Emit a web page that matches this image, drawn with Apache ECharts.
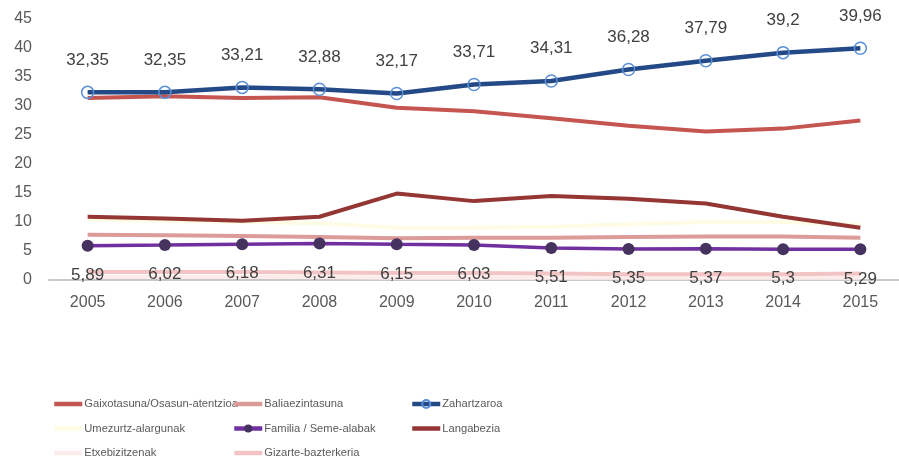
<!DOCTYPE html>
<html><head><meta charset="utf-8">
<script src="https://cdn.jsdelivr.net/npm/echarts@6/dist/echarts.min.js"></script>
<style>html,body{margin:0;padding:0;background:#fff}#c{width:899px;height:461px}</style>
</head><body><div id="c"></div>
<script>
const years = ['2005','2006','2007','2008','2009','2010','2011','2012','2013','2014','2015'];
const yTicks = [0,5,10,15,20,25,30,35,40,45];
const gaixotasuna = [31.4,31.7,31.4,31.5,29.7,29.1,27.9,26.6,25.6,26.1,27.5];
const baliaezintasuna = [7.8,7.7,7.6,7.4,7.2,7.3,7.3,7.4,7.5,7.5,7.3];
const zahartzaroa = [32.35,32.35,33.21,32.88,32.17,33.71,34.31,36.28,37.79,39.2,39.96];
const umezurtz = [10.4,10.2,10.0,9.8,9.0,9.0,9.2,9.6,10.0,10.0,9.5];
const familia = [5.89,6.02,6.18,6.31,6.15,6.03,5.51,5.35,5.37,5.3,5.29];
const langabezia = [10.9,10.6,10.2,10.9,14.9,13.6,14.5,14.0,13.2,10.9,9.0];
const etxebizitzenak = [0.5,0.5,0.5,0.5,0.4,0.4,0.4,0.4,0.4,0.4,0.4];
const gizarte = [1.4,1.4,1.4,1.3,1.2,1.2,1.1,1.0,1.0,1.0,1.1];

const names = ['Gaixotasuna/Osasun-atentzioa','Baliaezintasuna','Zahartzaroa','Umezurtz-alargunak','Familia / Seme-alabak','Langabezia','Etxebizitzenak','Gizarte-bazterkeria'];
const withMarker = [names[2], names[4]];
const FONT = '"Liberation Sans",Arial,sans-serif';
const chart = echarts.init(document.getElementById('c'));
function ln(name, data, color, width, extra) {
  return Object.assign({name, type:'line', data, symbol:'none', lineStyle:{color, width}, itemStyle:{color}, z:2}, extra||{});
}
function legItems(list) {
  return list.map(n => withMarker.includes(n) ? {name:n} : {name:n, itemStyle:{opacity:0}});
}
const legendBase = {orient:'vertical', itemWidth:28, itemHeight:10, itemGap:12.5, height:90, padding:0,
  lineStyle:{width:4.5},
  textStyle:{fontFamily:FONT, fontSize:11.2, lineHeight:12, color:'#595959', padding:[0,0,0,-3]}, top:398};
chart.setOption({
  animation:false,
  grid:{left:49, right:0, top:19, bottom:181},
  xAxis:{type:'category', data:years, boundaryGap:true,
    axisLine:{lineStyle:{color:'#c8c8c8', width:2}}, axisTick:{show:false},
    axisLabel:{color:'#595959', fontSize:16, fontFamily:FONT, margin:15}},
  yAxis:{type:'value', min:yTicks[0], max:yTicks[yTicks.length-1], interval:5,
    axisLine:{show:false}, axisTick:{show:false}, splitLine:{show:false},
    axisLabel:{color:'#595959', fontSize:16, fontFamily:FONT, margin:17}},
  legend:[
    Object.assign({left:52, data:legItems([names[0],names[3],names[6]])}, legendBase),
    Object.assign({left:232, data:legItems([names[1],names[4],names[7]])}, legendBase),
    Object.assign({left:410, data:legItems([names[2],names[5]])}, legendBase)
  ],
  series:[
    ln(names[6], etxebizitzenak, '#fdeceb', 4),
    ln(names[7], gizarte, '#f2c5c4', 4),
    ln(names[3], umezurtz, '#fffce6', 4),
    ln(names[1], baliaezintasuna, '#db9b99', 4),
    ln(names[5], langabezia, '#943634', 4),
    ln(names[0], gaixotasuna, '#c55550', 4),
    ln(names[4], familia, '#7030a0', 3.5, {symbol:'circle', symbolSize:12, itemStyle:{color:'#46325f'},
      label:{show:true, position:'bottom', distance:15, color:'#404040', fontSize:17, fontFamily:FONT,
        formatter:p=>String(p.value).replace('.',',')}, z:4}),
    ln(names[2], zahartzaroa, '#234a86', 4.5, {symbol:'circle', symbolSize:12,
      itemStyle:{color:'rgba(255,255,255,0)', borderColor:'#5b8fd6', borderWidth:1.5},
      label:{show:true, position:'top', distance:17, color:'#404040', fontSize:17, fontFamily:FONT,
        formatter:p=>String(p.value).replace('.',',')}, z:5})
  ]
});
</script></body></html>
